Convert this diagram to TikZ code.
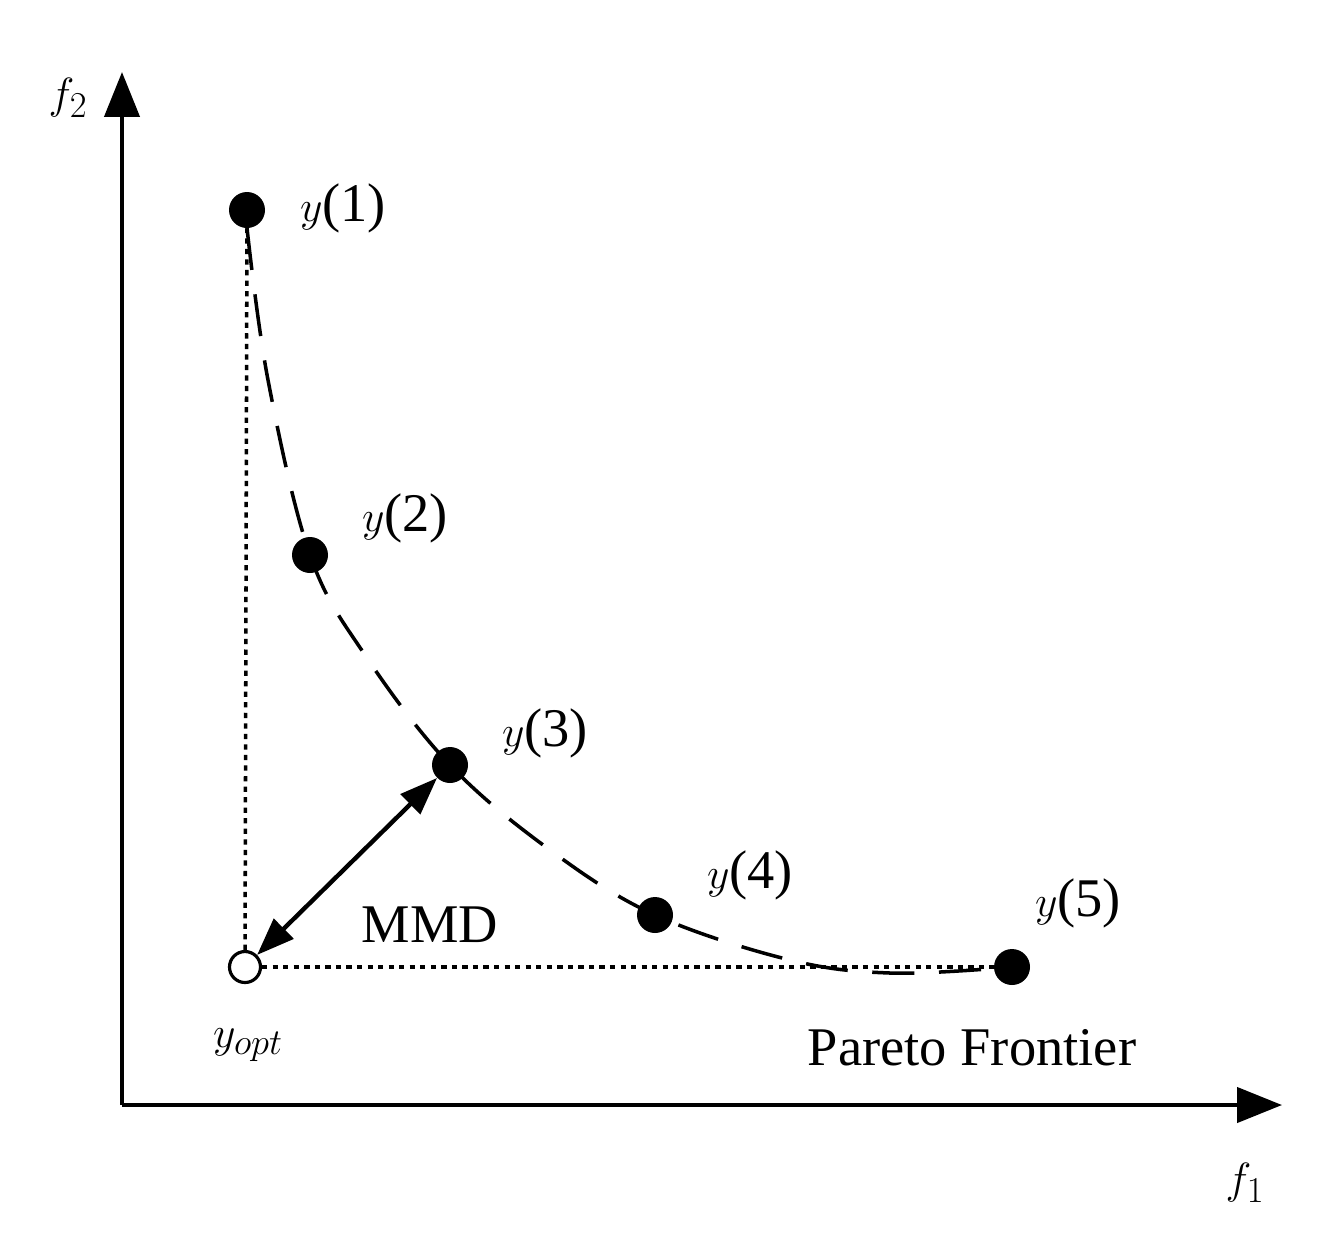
\documentclass[tikz,border=0pt]{standalone}
\usepackage{fontspec}
\setmainfont{Liberation Serif}
\usetikzlibrary{arrows.meta}
\begin{document}
\begin{tikzpicture}[x=0.02cm,y=-0.02cm,
  lbl/.style={font=\fontsize{31}{36}\selectfont, inner sep=0pt},
  pt/.style={circle, fill=black, minimum size=0.72cm, inner sep=0pt},
  opt/.style={circle, draw=black, fill=white, line width=1.8pt, minimum size=0.62cm, inner sep=0pt},
  axis/.style={line width=2.5pt, -{Triangle[length=0.9cm,width=0.7cm]}},
  dots/.style={line width=2pt, dash pattern=on 3pt off 3pt},
  longdash/.style={line width=2pt, dash pattern=on 24pt off 14pt}]
\useasboundingbox (0,0) rectangle (1327,1255);
\coordinate (O) at (122,1105);
\coordinate (Ytip) at (122,72);
\coordinate (Xtip) at (1282,1105);
\draw[axis] (O) -- (Ytip);
\draw[axis] (O) -- (Xtip);
\node[lbl] (f2) at (68,98) {$f_2$};
\node[lbl] (f1) at (1245,1183) {$f_1$};
\draw[longdash] plot[smooth, tension=0.6] coordinates {(247,228) (268,380) (310,555) (365,655) (450,765) (550,850) (655,915) (790,960) (890,973) (1000,968)};
\node[opt] (yopt) at (245,967) {};
\node[pt] (p1) at (247,210) {};
\node[pt] (p2) at (310,555) {};
\node[pt] (p3) at (450,765) {};
\node[pt] (p4) at (655,915) {};
\node[pt] (p5) at (1012,967) {};
\draw[dots] (yopt) -- (p1);
\draw[dots] (yopt) -- (p5);
\draw[line width=2.5pt, {Triangle[length=0.75cm,width=0.55cm]}-{Triangle[length=0.75cm,width=0.55cm]}] (yopt.north east) -- (p3.south west);
\node[lbl] (l1) at (343,208) {$y$(1)};
\node[lbl] (l2) at (405,518) {$y$(2)};
\node[lbl] (l3) at (545,733) {$y$(3)};
\node[lbl] (l4) at (750,875) {$y$(4)};
\node[lbl] (l5) at (1078,903) {$y$(5)};
\node[lbl] (lopt) at (248,1045) {$y_{opt}$};
\node[lbl] (mmd) at (430,925) {MMD};
\node[lbl] (pf) at (972,1048) {Pareto Frontier};
\end{tikzpicture}
\end{document}
